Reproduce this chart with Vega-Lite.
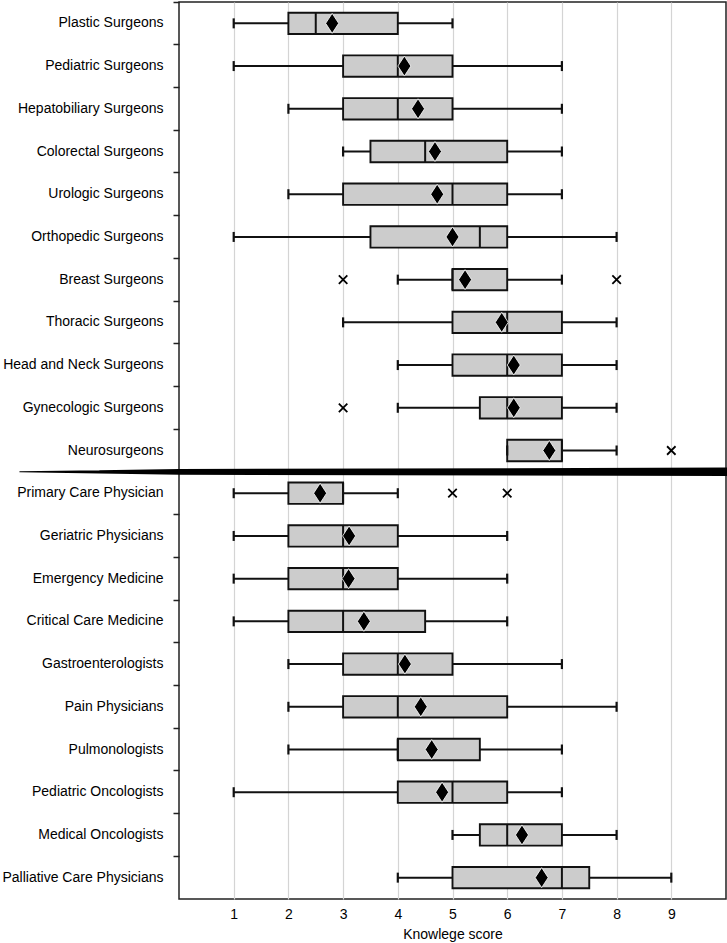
{
  "$schema": "https://vega.github.io/schema/vega-lite/v6.json",
  "width": 547,
  "height": 897,
  "autosize": {"type": "none"},
  "padding": {"left": 179, "top": 2, "right": 1, "bottom": 44},
  "config": {
    "font": "Liberation Sans",
    "view": {"stroke": "#222222", "strokeWidth": 1.5},
    "axis": {
      "labelFont": "Liberation Sans",
      "titleFont": "Liberation Sans",
      "labelFontSize": 14,
      "titleFontSize": 14,
      "labelColor": "#000000",
      "titleColor": "#000000",
      "titleFontWeight": "normal",
      "domain": false
    }
  },
  "datasets": {
    "boxes": [
      {"g": "Plastic Surgeons", "lo": 1, "q1": 2, "med": 2.5, "q3": 4, "hi": 5, "mean": 2.8},
      {"g": "Pediatric Surgeons", "lo": 1, "q1": 3, "med": 4, "q3": 5, "hi": 7, "mean": 4.12},
      {"g": "Hepatobiliary Surgeons", "lo": 2, "q1": 3, "med": 4, "q3": 5, "hi": 7, "mean": 4.37},
      {"g": "Colorectal Surgeons", "lo": 3, "q1": 3.5, "med": 4.5, "q3": 6, "hi": 7, "mean": 4.68},
      {"g": "Urologic Surgeons", "lo": 2, "q1": 3, "med": 5, "q3": 6, "hi": 7, "mean": 4.72},
      {"g": "Orthopedic Surgeons", "lo": 1, "q1": 3.5, "med": 5.5, "q3": 6, "hi": 8, "mean": 5.0},
      {"g": "Breast Surgeons", "lo": 4, "q1": 5, "med": 5, "q3": 6, "hi": 7, "mean": 5.23},
      {"g": "Thoracic Surgeons", "lo": 3, "q1": 5, "med": 6, "q3": 7, "hi": 8, "mean": 5.9},
      {"g": "Head and Neck Surgeons", "lo": 4, "q1": 5, "med": 6, "q3": 7, "hi": 8, "mean": 6.12},
      {"g": "Gynecologic Surgeons", "lo": 4, "q1": 5.5, "med": 6, "q3": 7, "hi": 8, "mean": 6.12},
      {"g": "Neurosurgeons", "lo": 6, "q1": 6, "med": 7, "q3": 7, "hi": 8, "mean": 6.77},
      {"g": "Primary Care Physician", "lo": 1, "q1": 2, "med": 3, "q3": 3, "hi": 4, "mean": 2.58},
      {"g": "Geriatric Physicians", "lo": 1, "q1": 2, "med": 3, "q3": 4, "hi": 6, "mean": 3.11},
      {"g": "Emergency Medicine", "lo": 1, "q1": 2, "med": 3, "q3": 4, "hi": 6, "mean": 3.1},
      {"g": "Critical Care Medicine", "lo": 1, "q1": 2, "med": 3, "q3": 4.5, "hi": 6, "mean": 3.38},
      {"g": "Gastroenterologists", "lo": 2, "q1": 3, "med": 4, "q3": 5, "hi": 7, "mean": 4.13},
      {"g": "Pain Physicians", "lo": 2, "q1": 3, "med": 4, "q3": 6, "hi": 8, "mean": 4.42},
      {"g": "Pulmonologists", "lo": 2, "q1": 4, "med": 4, "q3": 5.5, "hi": 7, "mean": 4.62},
      {"g": "Pediatric Oncologists", "lo": 1, "q1": 4, "med": 5, "q3": 6, "hi": 7, "mean": 4.81},
      {"g": "Medical Oncologists", "lo": 5, "q1": 5.5, "med": 6, "q3": 7, "hi": 8, "mean": 6.27},
      {"g": "Palliative Care Physicians", "lo": 4, "q1": 5, "med": 7, "q3": 7.5, "hi": 9, "mean": 6.63}
    ],
    "outliers": [
      {"g": "Breast Surgeons", "v": 3},
      {"g": "Breast Surgeons", "v": 8},
      {"g": "Gynecologic Surgeons", "v": 3},
      {"g": "Neurosurgeons", "v": 9},
      {"g": "Primary Care Physician", "v": 5},
      {"g": "Primary Care Physician", "v": 6}
    ],
    "divider": [
      {"g": "Primary Care Physician", "x": -2.91, "t": 0},
      {"g": "Primary Care Physician", "x": -1.45, "t": 0.38},
      {"g": "Primary Care Physician", "x": 0.01, "t": 0.68},
      {"g": "Primary Care Physician", "x": 10.05, "t": 1}
    ]
  },
  "encoding": {
    "y": {
      "field": "g",
      "type": "nominal",
      "title": null,
      "scale": {
        "type": "band",
        "paddingInner": 0,
        "paddingOuter": 0,
        "domain": [
          "Plastic Surgeons", "Pediatric Surgeons", "Hepatobiliary Surgeons", "Colorectal Surgeons",
          "Urologic Surgeons", "Orthopedic Surgeons", "Breast Surgeons", "Thoracic Surgeons",
          "Head and Neck Surgeons", "Gynecologic Surgeons", "Neurosurgeons",
          "Primary Care Physician", "Geriatric Physicians", "Emergency Medicine", "Critical Care Medicine",
          "Gastroenterologists", "Pain Physicians", "Pulmonologists", "Pediatric Oncologists",
          "Medical Oncologists", "Palliative Care Physicians"
        ]
      },
      "axis": {
        "ticks": true,
        "tickSize": 6,
        "tickWidth": 1.5,
        "tickColor": "#222222",
        "bandPosition": 0,
        "labelPadding": 10,
        "grid": false
      }
    }
  },
  "layer": [
    {
      "data": {"name": "boxes"},
      "mark": {"type": "rule", "color": "#111111", "strokeWidth": 2},
      "encoding": {
        "x": {
          "field": "lo",
          "type": "quantitative",
          "title": "Knowlege score",
          "scale": {"domain": [0, 10], "nice": false, "zero": false},
          "axis": {
            "values": [1, 2, 3, 4, 5, 6, 7, 8, 9],
            "ticks": false,
            "tickSize": 0,
            "labelPadding": 8,
            "titlePadding": 6,
            "grid": true,
            "gridColor": "#d4d4d4",
            "gridWidth": 1.2
          }
        },
        "x2": {"field": "hi"}
      }
    },
    {
      "data": {"name": "boxes"},
      "mark": {"type": "bar", "fill": "#cccccc", "stroke": "#111111", "strokeWidth": 1.9, "height": {"band": 0.5}},
      "encoding": {
        "x": {"field": "q1", "type": "quantitative", "title": "Knowlege score"},
        "x2": {"field": "q3"}
      }
    },
    {
      "data": {"name": "boxes"},
      "mark": {"type": "tick", "color": "#111111", "opacity": 1, "thickness": 2, "size": 21},
      "encoding": {
        "x": {"field": "med", "type": "quantitative", "title": "Knowlege score"}
      }
    },
    {
      "data": {"name": "boxes"},
      "mark": {"type": "tick", "color": "#111111", "opacity": 1, "thickness": 2.2, "size": 10},
      "encoding": {
        "x": {"field": "lo", "type": "quantitative", "title": "Knowlege score"}
      }
    },
    {
      "data": {"name": "boxes"},
      "mark": {"type": "tick", "color": "#111111", "opacity": 1, "thickness": 2.2, "size": 10},
      "encoding": {
        "x": {"field": "hi", "type": "quantitative", "title": "Knowlege score"}
      }
    },
    {
      "data": {"name": "boxes"},
      "mark": {
        "type": "point",
        "shape": "M0,-1L0.65,0L0,1L-0.65,0Z",
        "size": 400,
        "filled": true,
        "fill": "#000000",
        "stroke": "#ffffff",
        "strokeWidth": 0.8,
        "opacity": 1
      },
      "encoding": {
        "x": {"field": "mean", "type": "quantitative", "title": "Knowlege score"}
      }
    },
    {
      "data": {"name": "outliers"},
      "mark": {
        "type": "point",
        "shape": "M-1,-1L1,1M-1,1L1,-1",
        "size": 72,
        "filled": false,
        "stroke": "#000000",
        "strokeWidth": 1.8,
        "opacity": 1
      },
      "encoding": {
        "x": {"field": "v", "type": "quantitative", "title": "Knowlege score"}
      }
    },
    {
      "data": {"name": "divider"},
      "mark": {"type": "trail", "color": "#000000", "clip": false},
      "encoding": {
        "x": {"field": "x", "type": "quantitative", "title": "Knowlege score"},
        "y": {"field": "g", "type": "nominal", "bandPosition": 0, "title": null},
        "size": {"field": "t", "type": "quantitative", "scale": {"domain": [0, 1], "range": [0, 8.5]}, "legend": null}
      }
    }
  ]
}
